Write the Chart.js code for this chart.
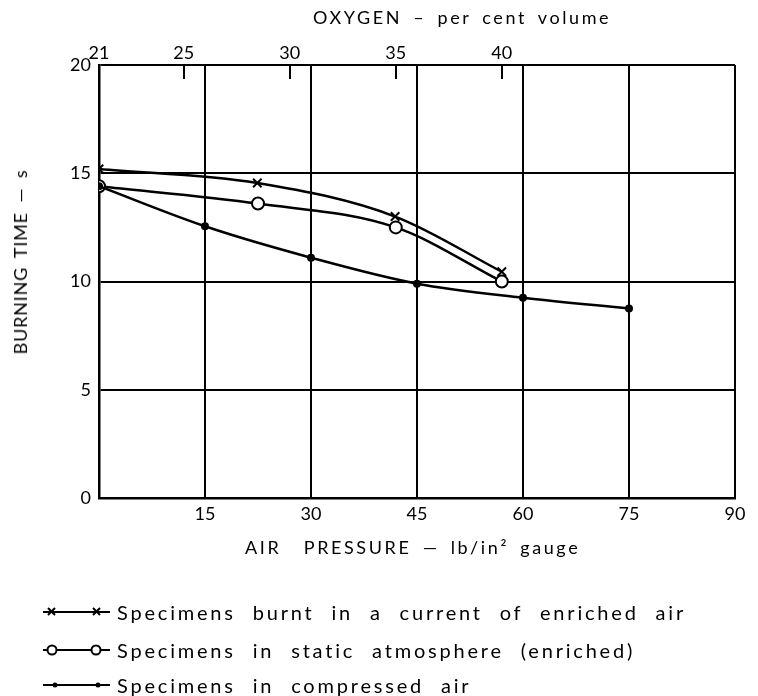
<!DOCTYPE html>
<html>
<head>
<meta charset="utf-8">
<script src="https://cdn.jsdelivr.net/npm/chart.js@4.4.1/dist/chart.umd.min.js"></script>
<style>
  html, body { margin: 0; padding: 0; background: #fff; }
  #cadre { position: relative; width: 758px; height: 696px; font-family: Lato, "Open Sans", sans-serif; color: #000; }
  #graphique { position: absolute; left: 0; top: 0; }
  .titre { position: absolute; white-space: nowrap; font-size: 18px; letter-spacing: 2.6px; word-spacing: 4px; }
  #titreHaut { left: 313px; top: 6px; }
  #titreBas { left: 245px; top: 536px; }
  #titreGauche { left: 20px; top: 262px; letter-spacing: 0.8px; transform: translate(-50%, -50%) rotate(-90deg); }
  .legende { position: absolute; left: 36px; height: 24px; display: flex; align-items: center; }
  .legende span { font-size: 20px; letter-spacing: 2.8px; word-spacing: 9px; margin-left: 6px; white-space: nowrap; }
</style>
</head>
<body>
<div id="cadre">
  <canvas id="graphique" width="758" height="696"></canvas>
  <div class="titre" id="titreHaut">OXYGEN – per cent volume</div>
  <div class="titre" id="titreBas">AIR &nbsp;PRESSURE — lb/in² gauge</div>
  <div class="titre" id="titreGauche">BURNING TIME — s</div>

  <div class="legende" style="top:600px">
    <svg width="75" height="24"><line x1="7" y1="12" x2="74" y2="12" stroke="#000" stroke-width="2"/>
      <path d="M12 8 l7 7 M19 8 l-7 7 M57 8 l7 7 M64 8 l-7 7" stroke="#000" stroke-width="2"/></svg>
    <span>Specimens burnt in a current of enriched air</span>
  </div>
  <div class="legende" style="top:638px">
    <svg width="75" height="24"><line x1="7" y1="12" x2="74" y2="12" stroke="#000" stroke-width="2"/>
      <circle cx="16" cy="12" r="4.5" fill="#fff" stroke="#000" stroke-width="2"/>
      <circle cx="60" cy="12" r="4.5" fill="#fff" stroke="#000" stroke-width="2"/></svg>
    <span>Specimens in static atmosphere (enriched)</span>
  </div>
  <div class="legende" style="top:673px">
    <svg width="75" height="24"><line x1="7" y1="12" x2="74" y2="12" stroke="#000" stroke-width="2"/>
      <circle cx="19" cy="12" r="2.5" fill="#000"/>
      <circle cx="62" cy="12" r="2.5" fill="#000"/></svg>
    <span>Specimens in compressed air</span>
  </div>
</div>

<script>
// ── Données ────────────────────────────────────────────────
const pressionCourant  = [0, 22.4, 41.9, 57];
const tempsCourant     = [15.2, 14.55, 13.0, 10.45];

const pressionStatique = [0, 22.5, 42, 57];
const tempsStatique    = [14.4, 13.6, 12.5, 10.0];

const pressionComprime = [0, 15, 30, 45, 60, 75];
const tempsComprime    = [14.4, 12.55, 11.1, 9.9, 9.25, 8.75];

const ticksPression = [0, 15, 30, 45, 60, 75, 90];
const ticksTemps    = [0, 5, 10, 15, 20];
const ticksOxygene  = [21, 25, 30, 35, 40];

const points = (xs, ys) => xs.map((x, i) => ({ x, y: ys[i] }));

const police = { family: 'Lato, "Open Sans", sans-serif', size: 18 };
const noir = '#000';

// ── Petits traits de graduation de l'axe oxygène (vers l'intérieur) ──
const traitsOxygene = {
    id: 'traitsOxygene',
    afterDraw(chart) {
        const s = chart.scales.x2;
        const { ctx, chartArea } = chart;
        ctx.save();
        ctx.strokeStyle = noir;
        ctx.lineWidth = 2;
        ticksOxygene.forEach(v => {
            const px = Math.round(s.getPixelForValue(v));
            ctx.beginPath();
            ctx.moveTo(px, chartArea.top);
            ctx.lineTo(px, chartArea.top + 14);
            ctx.stroke();
        });
        ctx.restore();
    }
};

const serie = (label, data, style, rayon, fond) => ({
    label, data,
    xAxisID: 'x', yAxisID: 'y',
    borderColor: noir,
    borderWidth: 2.5,
    pointStyle: style,
    pointRadius: rayon,
    pointBorderWidth: 2,
    pointBackgroundColor: fond,
    pointBorderColor: noir,
    tension: 0.4,
    cubicInterpolationMode: 'monotone',
    fill: false
});

new Chart(document.getElementById('graphique'), {
    type: 'line',
    data: {
        datasets: [
            serie('Specimens in compressed air', points(pressionComprime, tempsComprime), 'circle', 3, noir),
            serie('Specimens in static atmosphere (enriched)', points(pressionStatique, tempsStatique), 'circle', 6, '#fff'),
            serie('Specimens burnt in a current of enriched air', points(pressionCourant, tempsCourant), 'crossRot', 6, noir)
        ]
    },
    options: {
        responsive: false,
        animation: false,
        devicePixelRatio: 1,
        layout: { padding: { left: 0, right: 23, top: 0, bottom: 0 } },
        plugins: { legend: { display: false }, tooltip: { enabled: false } },
        scales: {
            x: {
                type: 'linear', position: 'bottom', min: 0, max: 90,
                afterBuildTicks: s => { s.ticks = ticksPression.map(v => ({ value: v })); },
                afterFit: s => { s.height = 198; },
                ticks: { color: noir, font: police, padding: 5, maxRotation: 0,
                         callback: v => (v === 0 ? '' : v) },
                grid: { color: noir, lineWidth: 2, drawTicks: false },
                border: { color: noir, width: 2.5 }
            },
            x2: {
                type: 'linear', position: 'top', min: 21, max: 51,
                afterBuildTicks: s => { s.ticks = ticksOxygene.map(v => ({ value: v })); },
                afterFit: s => { s.height = 65; },
                ticks: { color: noir, font: police, padding: 1, maxRotation: 0 },
                grid: { drawOnChartArea: false, drawTicks: false },
                border: { display: false }
            },
            y: {
                type: 'linear', position: 'left', min: 0, max: 20,
                afterBuildTicks: s => { s.ticks = ticksTemps.map(v => ({ value: v })); },
                afterFit: s => { s.width = 99; },
                ticks: { color: noir, font: police, padding: 8 },
                grid: { color: noir, lineWidth: 2, drawTicks: false },
                border: { color: noir, width: 2.5 }
            }
        }
    },
    plugins: [traitsOxygene]
});
</script>
</body>
</html>
